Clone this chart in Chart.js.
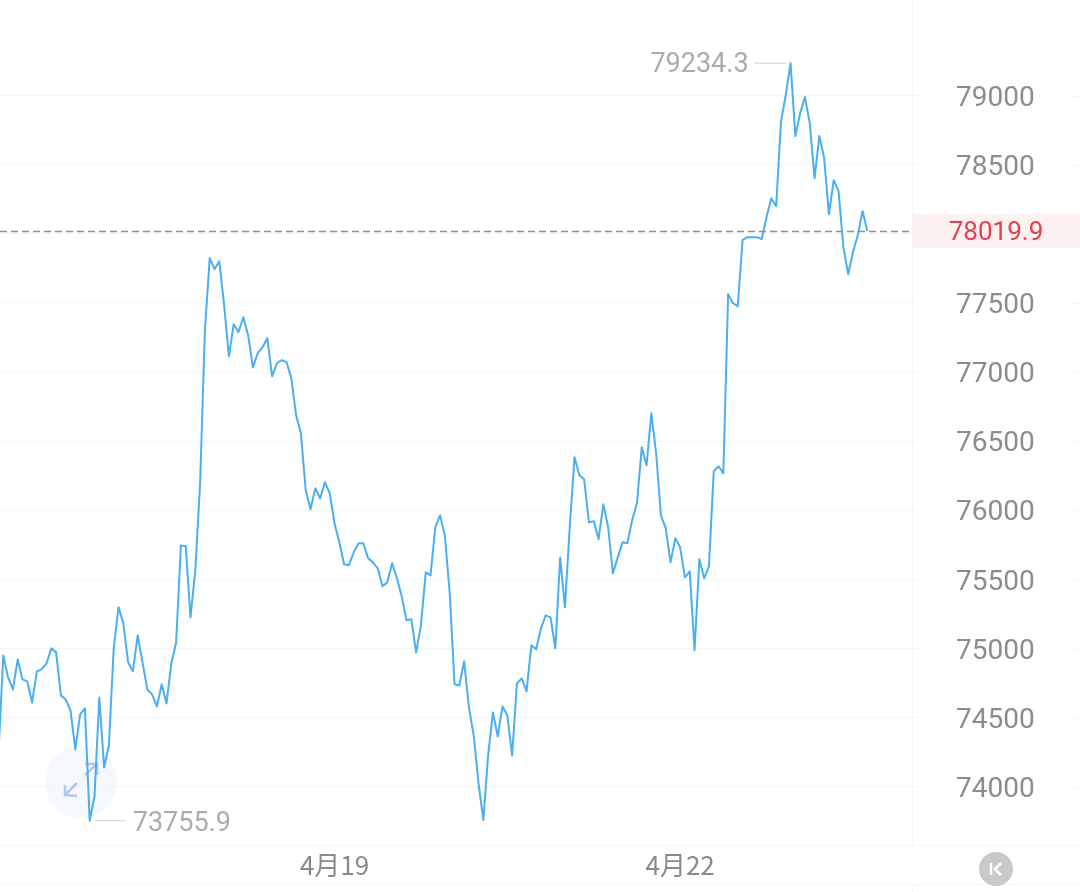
<!DOCTYPE html>
<html>
<head>
<meta charset="utf-8">
<style>
  html, body { margin: 0; padding: 0; background: #fff; }
  canvas { display: block; }
</style>
<script src="https://cdn.jsdelivr.net/npm/chart.js@4"></script>
</head>
<body>
<canvas id="priceChart" width="1080" height="892"></canvas>
<script>
// hourly closes
const closes = [
  74250, 74951, 74792, 74705, 74922, 74778, 74763, 74611, 74836, 74850,
  74893, 75002, 74973, 74662, 74633, 74553, 74271, 74524, 74568, 73755.9,
  73931, 74647, 74141, 74300, 75002, 75299, 75183, 74901, 74836, 75096,
  74901, 74705, 74669, 74582, 74742, 74604, 74893, 75045, 75747, 75740,
  75226, 75566, 76196, 77303, 77824, 77744, 77802, 77484, 77115, 77346,
  77289, 77397, 77267, 77035, 77137, 77180, 77245, 76970, 77064, 77086,
  77072, 76956, 76688, 76558, 76145, 76008, 76160, 76087, 76203, 76124,
  75907, 75769, 75610, 75603, 75697, 75762, 75762, 75653, 75624, 75581,
  75451, 75480, 75617, 75509, 75378, 75205, 75212, 74973, 75168, 75552,
  75530, 75878, 75964, 75812, 75400, 74742, 74734, 74908, 74575, 74372,
  74025, 73760, 74228, 74539, 74365, 74582, 74517, 74228, 74749, 74785,
  74691, 75024, 74995, 75147, 75241, 75226, 75002, 75660, 75299, 75878,
  76384, 76254, 76225, 75914, 75921, 75791, 76044, 75878, 75545, 75660,
  75769, 75762, 75928, 76051, 76456, 76326, 76702, 76413, 75964, 75870,
  75624, 75798, 75733, 75516, 75559, 74988, 75646, 75509, 75595, 76283,
  76319, 76268, 77564, 77498, 77477, 77954, 77976, 77976, 77976, 77962,
  78121, 78258, 78200, 78808, 79004, 79234.3, 78707, 78873, 78989, 78801,
  78403, 78707, 78548, 78142, 78388, 78309, 77904, 77708, 77867, 77990,
  78164, 78019.9
];
const yTicks = [74000, 74500, 75000, 75500, 76000, 76500, 77000, 77500, 78000, 78500, 79000];
const xTicks = [70, 142];
const xTickLabels = ['4月19', '4月22'];
const lastPrice = '78019.9';
const highPrice = '79234.3';
const lowPrice = '73755.9';

const gridColor = '#f4f5f6';

// everything the library has no option for: price tag, high/low notes, the two buttons
const overlays = {
  id: 'overlays',
  beforeDatasetsDraw(chart) {
    const c = chart.ctx;
    const y = chart.scales.y;
    c.save();
    c.strokeStyle = gridColor;
    c.lineWidth = 1;
    c.beginPath();
    // right end of the grid lines, past the labels
    yTicks.forEach(v => {
      const p = Math.round(y.getPixelForValue(v)) + 0.5;
      c.moveTo(1068, p);
      c.lineTo(1080, p);
    });
    c.moveTo(912.5, 0); c.lineTo(912.5, 845);
    c.moveTo(912.5, 885); c.lineTo(912.5, 892);
    c.moveTo(0, 845.5); c.lineTo(1080, 845.5);
    c.moveTo(0, 884.5); c.lineTo(1080, 884.5);
    c.stroke();

    // expand button, the line runs over it
    c.fillStyle = 'rgba(238, 244, 252, 0.6)';
    c.beginPath();
    c.arc(81, 782, 36, 0, Math.PI * 2);
    c.fill();
    c.strokeStyle = '#b4c6ec';
    c.lineWidth = 2.5;
    c.beginPath();
    c.moveTo(77, 783); c.lineTo(65, 795);
    c.moveTo(65, 785); c.lineTo(65, 795); c.lineTo(77, 796);
    c.moveTo(85, 775); c.lineTo(97, 764);
    c.moveTo(85, 764); c.lineTo(97, 764); c.lineTo(97, 775);
    c.stroke();
    c.restore();
  },
  afterDatasetsDraw(chart) {
    const c = chart.ctx;
    const x = chart.scales.x;
    const y = chart.scales.y;
    const lastY = y.getPixelForValue(closes[closes.length - 1]);
    c.save();

    // current price
    c.fillStyle = '#fdf1f1';
    c.fillRect(913, lastY - 17, 167, 34);
    c.strokeStyle = '#8f8f8f';
    c.lineWidth = 1.5;
    c.setLineDash([7, 4]);
    c.beginPath();
    c.moveTo(0, Math.round(lastY) + 0.5);
    c.lineTo(912, Math.round(lastY) + 0.5);
    c.stroke();
    c.setLineDash([]);
    c.font = '400 26px Roboto, "Noto Sans CJK SC", sans-serif';
    c.fillStyle = '#e4404f';
    c.textAlign = 'center';
    c.textBaseline = 'middle';
    c.fillText(lastPrice, 996, lastY + 2);

    // high / low notes
    const hiI = closes.indexOf(Math.max(...closes));
    const loI = closes.indexOf(Math.min(...closes));
    const hiX = x.getPixelForValue(hiI);
    const hiY = y.getPixelForValue(closes[hiI]);
    const loX = x.getPixelForValue(loI);
    const loY = y.getPixelForValue(closes[loI]);
    c.strokeStyle = '#cfcfcf';
    c.lineWidth = 1;
    c.beginPath();
    c.moveTo(hiX - 36, hiY); c.lineTo(hiX - 5, hiY);
    c.moveTo(loX + 5, loY); c.lineTo(loX + 36, loY);
    c.stroke();
    c.font = '400 27px Roboto, "Noto Sans CJK SC", sans-serif';
    c.fillStyle = '#ababab';
    c.textAlign = 'right';
    c.fillText(highPrice, hiX - 42, hiY + 2);
    c.textAlign = 'left';
    c.fillText(lowPrice, loX + 43, loY + 4);

    // jump-to-latest button
    c.fillStyle = '#c9c9c9';
    c.beginPath();
    c.arc(996, 869, 17, 0, Math.PI * 2);
    c.fill();
    c.strokeStyle = '#fff';
    c.lineWidth = 2.5;
    c.beginPath();
    c.moveTo(991, 863); c.lineTo(991, 875);
    c.moveTo(1001, 863); c.lineTo(995, 869); c.lineTo(1001, 875);
    c.stroke();
    c.restore();
  }
};

new Chart(document.getElementById('priceChart'), {
  type: 'line',
  data: {
    datasets: [{
      data: closes.map((v, i) => ({ x: i, y: v })),
      borderColor: '#4aaef2',
      borderWidth: 2,
      borderJoinStyle: 'round',
      pointRadius: 0,
      tension: 0,
      fill: false
    }]
  },
  options: {
    responsive: false,
    animation: false,
    layout: { padding: 0 },
    plugins: { legend: { display: false }, tooltip: { enabled: false } },
    scales: {
      x: {
        type: 'linear',
        min: 0.3125,
        max: 190.3,
        afterBuildTicks: axis => { axis.ticks = xTicks.map(v => ({ value: v })); },
        afterFit: axis => { axis.height = 47; },
        grid: { display: false },
        border: { display: false },
        ticks: {
          autoSkip: false,
          maxRotation: 0,
          padding: -3,
          color: '#8a8a8a',
          font: { family: '"Noto Sans CJK SC", sans-serif', size: 26, weight: '400' },
          callback: v => xTickLabels[xTicks.indexOf(v)]
        }
      },
      y: {
        position: 'right',
        min: 73580,
        max: 79691,
        afterBuildTicks: axis => { axis.ticks = yTicks.map(v => ({ value: v })); },
        afterFit: axis => {
          axis.width = 168;
          axis.paddingTop = 0;
          axis.paddingBottom = 0;
        },
        grid: { color: gridColor, tickColor: gridColor, tickLength: 12 },
        border: { display: false },
        ticks: {
          autoSkip: false,
          crossAlign: 'center',
          padding: 32,
          labelOffset: 3,
          color: '#8c8c8c',
          font: { family: 'Roboto, sans-serif', size: 28, weight: '400' },
          // the red tag sits on 78000
          callback: v => (v === 78000 ? '' : String(v))
        }
      }
    }
  },
  plugins: [overlays]
});
</script>
</body>
</html>
